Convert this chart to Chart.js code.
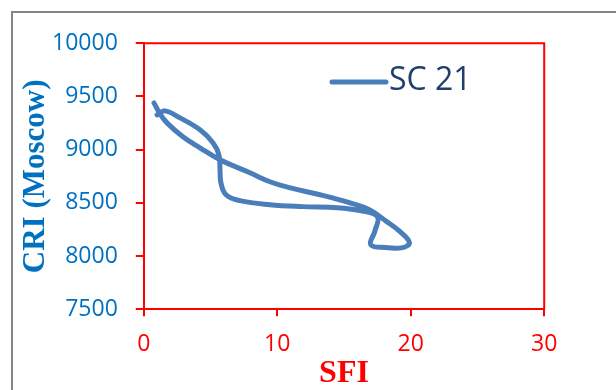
<!DOCTYPE html>
<html>
<head>
<meta charset="utf-8">
<script src="https://cdn.jsdelivr.net/npm/chart.js@4.4.1/dist/chart.umd.min.js"></script>
<style>
  html, body { margin: 0; padding: 0; background: #fff; }
  #frame {
    position: absolute; left: 11px; top: 11px; width: 700px; height: 500px;
    border-left: 2px solid #858585; border-top: 2px solid #858585;
  }
  #wrap { position: absolute; left: 0; top: 0; width: 616px; height: 390px; }
</style>
</head>
<body>
<div id="frame"></div>
<div id="wrap"><canvas id="chart" width="616" height="390"></canvas></div>
<script>
// SFI vs CRI (Moscow), series SC 21, traced along the loop
const sfi = [0.99, 1.59, 2.71, 4.21, 5.18, 5.63, 5.71, 5.78, 6.16, 7.21, 9.45, 11.9, 14.5, 16.2, 17.5,
  17.3, 17.0, 18.1, 19.4, 19.9, 19.2, 18.2, 16.9, 15.4, 13.2, 10.9, 9.45, 7.95, 5.71, 4.21, 2.93, 1.74, 1.21, 0.76];
const cri = [9327, 9365, 9299, 9187, 9065, 8952, 8811, 8689, 8577, 8521, 8483, 8465, 8455, 8427, 8371,
  8230, 8108, 8080, 8080, 8127, 8230, 8324, 8437, 8503, 8577, 8643, 8699, 8783, 8905, 9018, 9121, 9252, 9337, 9440];
const seriesName = 'SC 21';
const xTicks = [0, 10, 20, 30];
const yTicks = [7500, 8000, 8500, 9000, 9500, 10000];

const lineColor = '#4a7ebb';

// red box round the plot area + legend inside
const plotFrame = {
  id: 'plotFrame',
  afterDraw(chart) {
    const { ctx, chartArea: a } = chart;
    ctx.save();
    ctx.strokeStyle = '#ff0000';
    ctx.lineWidth = 2;
    ctx.beginPath();
    ctx.moveTo(a.left, a.top);
    ctx.lineTo(a.right, a.top);
    ctx.lineTo(a.right, a.bottom);
    ctx.stroke();

    // legend
    ctx.strokeStyle = lineColor;
    ctx.lineWidth = 5;
    ctx.lineCap = 'round';
    ctx.beginPath();
    ctx.moveTo(332, 82);
    ctx.lineTo(386, 82);
    ctx.stroke();
    ctx.fillStyle = '#1f3f6e';
    ctx.font = '32px "Open Sans"';
    ctx.textBaseline = 'middle';
    ctx.fillText(seriesName, 389, 81);
    ctx.restore();
  }
};

new Chart(document.getElementById('chart'), {
  type: 'scatter',
  data: {
    datasets: [{
      label: seriesName,
      data: sfi.map((x, i) => ({ x: x, y: cri[i] })),
      showLine: true,
      borderColor: lineColor,
      borderWidth: 5,
      borderCapStyle: 'round',
      borderJoinStyle: 'round',
      tension: 0.4,
      pointRadius: 0,
      fill: false
    }]
  },
  options: {
    responsive: false,
    animation: false,
    layout: { padding: { left: 12, top: 43.3, right: 71.8, bottom: 0 } },
    plugins: { legend: { display: false }, tooltip: { enabled: false } },
    scales: {
      x: {
        type: 'linear', min: 0, max: 30,
        afterBuildTicks: (s) => { s.ticks = xTicks.map(v => ({ value: v })); },
        afterFit: (s) => { s.height = 80.7; },
        border: { color: '#ff0000', width: 2 },
        grid: { drawOnChartArea: false, drawTicks: true, tickLength: 7, color: '#ff0000', lineWidth: 2 },
        ticks: { color: '#ff0000', font: { family: 'Open Sans', size: 23 }, padding: 14, callback: (v) => String(v) },
        title: {
          display: true, text: 'SFI', color: '#ff0000',
          font: { family: 'Liberation Serif', size: 32, weight: 'bold', lineHeight: 1 },
          padding: { top: 0, bottom: 0 }
        }
      },
      y: {
        type: 'linear', min: 7500, max: 10000,
        afterBuildTicks: (s) => { s.ticks = yTicks.map(v => ({ value: v })); },
        afterFit: (s) => { s.width = 131.8; },
        border: { color: '#ff0000', width: 2 },
        grid: { drawOnChartArea: false, drawTicks: true, tickLength: 8, color: '#ff0000', lineWidth: 2 },
        ticks: { color: '#0070c0', font: { family: 'Open Sans', size: 23 }, padding: 18, callback: (v) => String(v) },
        title: {
          display: true, text: 'CRI (Moscow)', color: '#0070c0',
          font: { family: 'Liberation Serif', size: 31, weight: 'bold', lineHeight: 1.2 },
          padding: { top: 5, bottom: 0 }
        }
      }
    }
  },
  plugins: [plotFrame]
});
</script>
</body>
</html>
